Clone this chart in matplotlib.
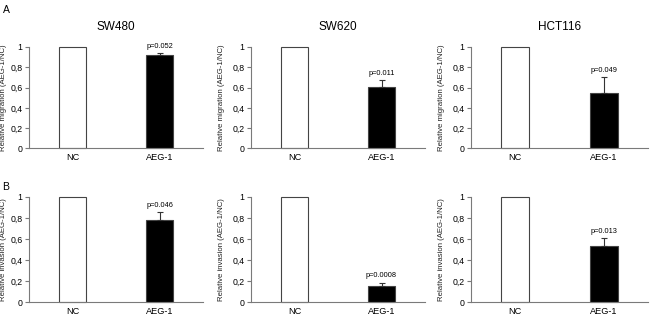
import matplotlib
matplotlib.use("Agg")
import matplotlib.pyplot as plt
from matplotlib.ticker import FuncFormatter

plt.rcParams['font.family'] = ['Liberation Sans', 'DejaVu Sans']

cells = ["SW480", "SW620", "HCT116"]
groups = ["NC", "AEG-1"]

migration = [[1.0, 0.925], [1.0, 0.61], [1.0, 0.55]]
migration_err = [[0.0, 0.02], [0.0, 0.06], [0.0, 0.15]]
migration_p = ["p=0.052", "p=0.011", "p=0.049"]

invasion = [[1.0, 0.785], [1.0, 0.15], [1.0, 0.535]]
invasion_err = [[0.0, 0.07], [0.0, 0.035], [0.0, 0.075]]
invasion_p = ["p=0.046", "p=0.0008", "p=0.013"]

fig = plt.figure(figsize=(6.5, 3.19), dpi=100)

lefts = [29 / 650, 251 / 650, 471 / 650]
widths = [174 / 650, 174 / 650, 177 / 650]
label_x = [-0.128, -0.15, -0.147]
rows = [(1 - 148.5 / 319, 101.5 / 319), (1 - 302 / 319, 105 / 319)]

comma = FuncFormatter(lambda v, pos: ("%g" % round(v, 1)).replace(".", ","))
axc = "#7a7a7a"


def panel(ax, vals, errs, ptxt, ylabel, lx):
    x = [0, 1]
    ax.bar(x, vals, width=0.32, color=["white", "black"],
           edgecolor="#444444", linewidth=0.8, clip_on=False, zorder=2)
    ax.errorbar([1], [vals[1]], yerr=[[0], [errs[1]]], fmt="none",
                ecolor="#333333", elinewidth=0.8, capsize=2, capthick=0.8, zorder=3)
    ax.text(1, vals[1] + errs[1] + 0.03, ptxt, ha="center", va="bottom", fontsize=5.3)
    ax.set_xlim(-0.5, 1.5)
    ax.set_ylim(0, 1)
    ax.set_yticks([0, 0.2, 0.4, 0.6, 0.8, 1.0])
    ax.yaxis.set_major_formatter(comma)
    ax.set_xticks(x)
    ax.set_xticklabels(groups)
    ax.tick_params(axis="x", length=0, labelsize=6.6, pad=3.5)
    ax.tick_params(axis="y", length=3, width=0.8, color=axc, labelsize=6.3, pad=1.5)
    for s in ["top", "right"]:
        ax.spines[s].set_visible(False)
    for s in ["left", "bottom"]:
        ax.spines[s].set_color(axc)
        ax.spines[s].set_linewidth(0.8)
    ax.set_ylabel(ylabel, fontsize=5.6, color="#222222")
    ax.yaxis.set_label_coords(lx, 0.5)


for i, cell in enumerate(cells):
    ax = fig.add_axes([lefts[i], rows[0][0], widths[i], rows[0][1]])
    panel(ax, migration[i], migration_err[i], migration_p[i],
          "Relative migration (AEG-1/NC)", label_x[i])
    ax.set_title(cell, fontsize=8.5, pad=12)

    ax = fig.add_axes([lefts[i], rows[1][0], widths[i], rows[1][1]])
    panel(ax, invasion[i], invasion_err[i], invasion_p[i],
          "Relative invasion (AEG-1/NC)", label_x[i])

fig.text(0.004, 0.985, "A", fontsize=7.5, va="top")
fig.text(0.004, 0.43, "B", fontsize=7.5, va="top")

fig.savefig("out.png", dpi=100)
